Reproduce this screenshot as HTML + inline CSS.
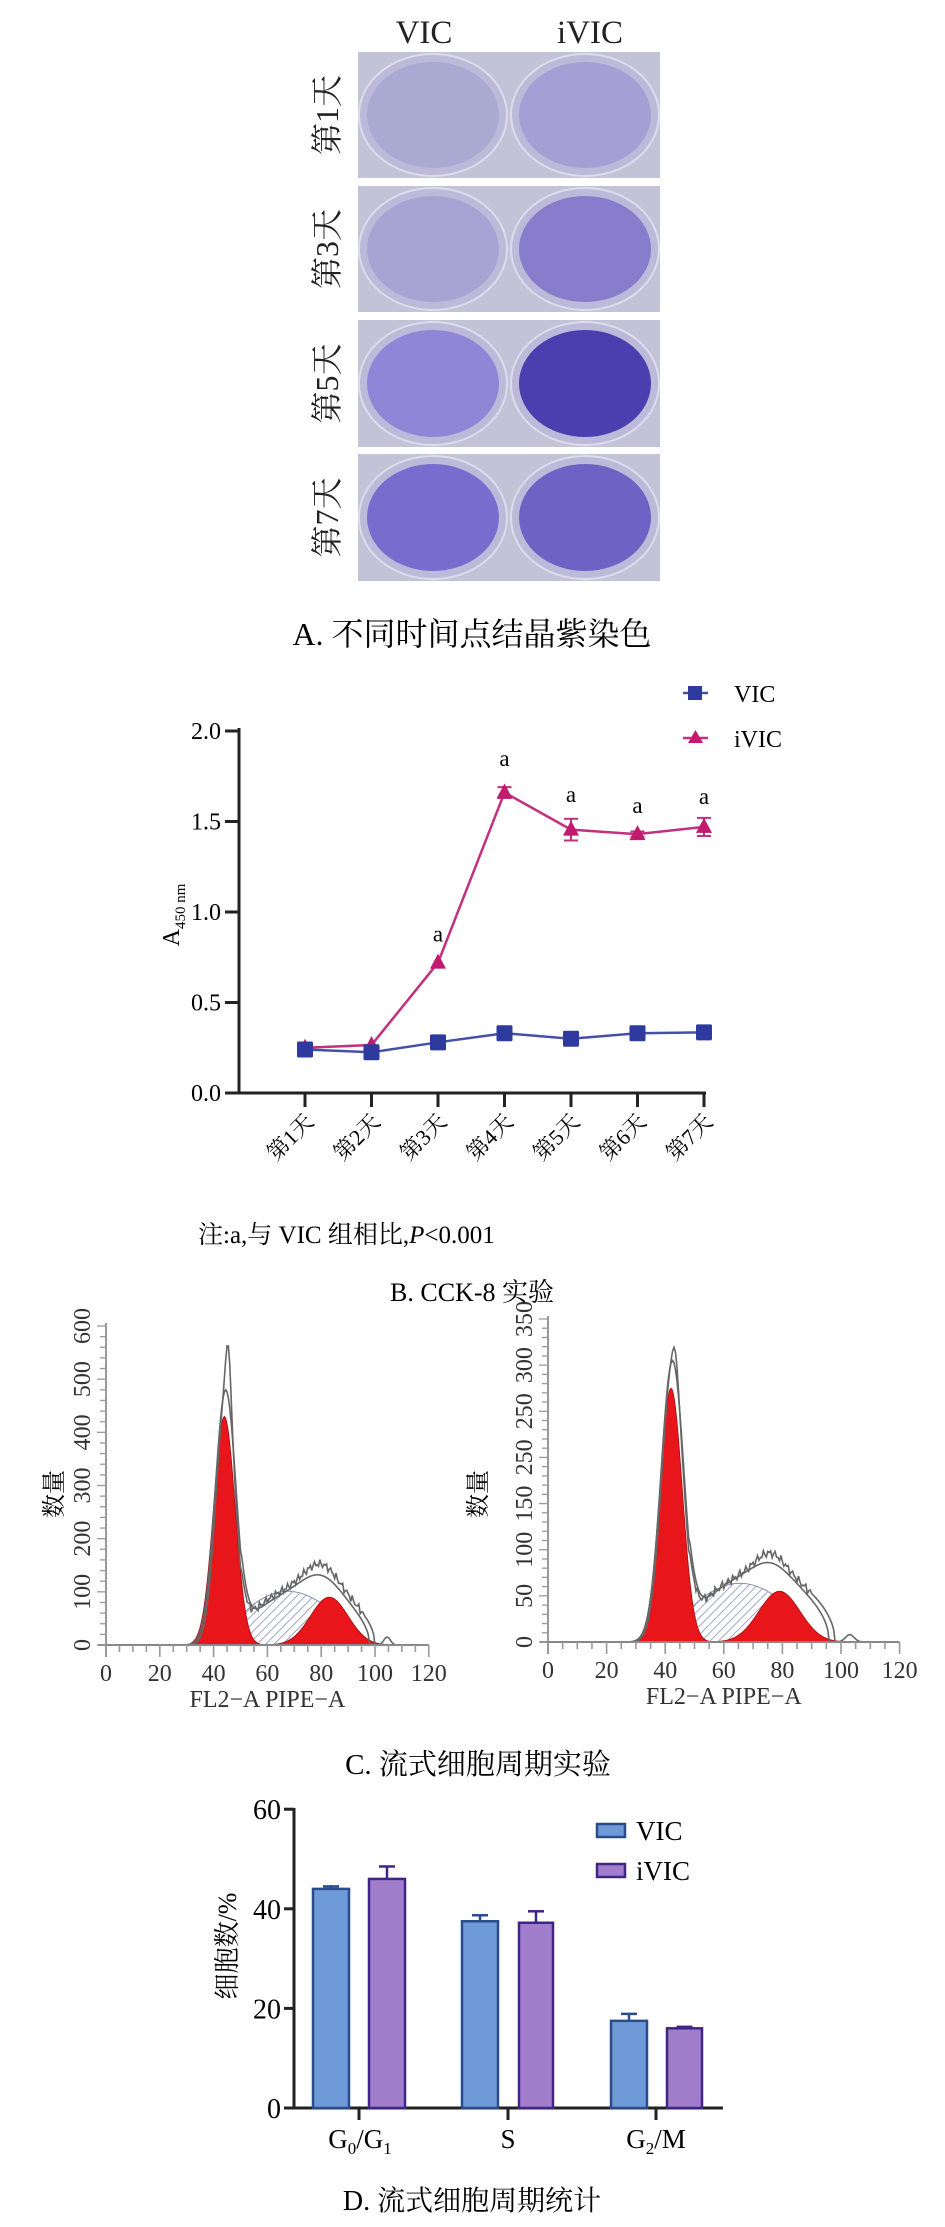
<!DOCTYPE html>
<html><head><meta charset="utf-8"><style>
html,body{margin:0;padding:0;background:#fff}
body{width:945px;height:2227px;position:relative;overflow:hidden}
svg{position:absolute;left:0;top:0}
</style></head><body>
<svg id="s" width="945" height="2227" viewBox="0 0 945 2227" xmlns="http://www.w3.org/2000/svg" font-family="Liberation Serif, Noto Serif CJK SC, serif">
<defs>
<pattern id="hatch" width="6" height="6" patternUnits="userSpaceOnUse" patternTransform="rotate(45)">
<rect width="6" height="6" fill="#fff"/><line x1="0" y1="0" x2="0" y2="6" stroke="#8a8fb8" stroke-width="1.6"/></pattern>
</defs>
<!-- Panel A -->
<text x="424" y="43" font-size="33" text-anchor="middle" fill="#222">VIC</text>
<text x="590" y="43" font-size="33" text-anchor="middle" fill="#222">iVIC</text>
<g id="photos"></g>
<text x="472" y="645" font-size="32" text-anchor="middle">A. 不同时间点结晶紫染色</text>

<!-- Panel B -->
<g id="pb"></g>
<text x="198" y="1243" font-size="25">注:a,与 VIC 组相比,<tspan font-style="italic">P</tspan>&lt;0.001</text>
<text x="472" y="1301" font-size="26" text-anchor="middle">B. CCK-8 实验</text>

<!-- Panel C -->
<g id="pc"></g>
<text x="478" y="1774" font-size="29" text-anchor="middle">C. 流式细胞周期实验</text>

<!-- Panel D -->
<g id="pd"></g>
<text x="472" y="2210" font-size="28" text-anchor="middle">D. 流式细胞周期统计</text>
</svg>
<script>
var NS="http://www.w3.org/2000/svg";
function el(p,t,a,txt){var e=document.createElementNS(NS,t);for(var k in a)e.setAttribute(k,a[k]);if(txt!=null)e.textContent=txt;p.appendChild(e);return e;}
// Panel A
var ph=document.getElementById('photos');
var rows=[[52,178,'#aaa9d2','#a49fd4','第1天'],[186,312,'#a9a3d4','#8a7ccd','第3天'],[320,447,'#9085d6','#4b3eae','第5天'],[454,581,'#7a6bcf','#7061c4','第7天']];
rows.forEach(function(r){
 el(ph,'rect',{x:358,y:r[0],width:302,height:r[1]-r[0],fill:'#c3c3d8'});
 var cy=(r[0]+r[1])/2,ry=(r[1]-r[0])/2;
 el(ph,'ellipse',{cx:433,cy:cy,rx:74,ry:ry-2,fill:'#bcbad8',stroke:'#dcdcec','stroke-width':2});
 el(ph,'ellipse',{cx:585,cy:cy,rx:74,ry:ry-2,fill:'#bcbad8',stroke:'#dcdcec','stroke-width':2});
 el(ph,'ellipse',{cx:433,cy:cy,rx:66,ry:ry-10,fill:r[2]});
 el(ph,'ellipse',{cx:585,cy:cy,rx:66,ry:ry-10,fill:r[3]});
 el(ph,'text',{x:0,y:0,'font-size':32,'text-anchor':'middle',fill:'#222',transform:'translate(338,'+cy+') rotate(-90)'},r[4]);
});
// Panel B
var pb=document.getElementById('pb');
var X0=239,Y0=1093,YS=181;
function bx(i){return 305+i*66.5;} function by(v){return Y0-v*YS;}
el(pb,'line',{x1:X0,y1:Y0,x2:X0,y2:728,stroke:'#222','stroke-width':3});
el(pb,'line',{x1:X0,y1:Y0,x2:706,y2:Y0,stroke:'#222','stroke-width':3});
[0,0.5,1,1.5,2].forEach(function(v){var y=by(v);el(pb,'line',{x1:X0-14,y1:y,x2:X0,y2:y,stroke:'#222','stroke-width':3});
 el(pb,'text',{x:X0-18,y:y+8,'font-size':24,'text-anchor':'end'},v.toFixed(1));});
for(var i=0;i<7;i++){var x=bx(i);el(pb,'line',{x1:x,y1:Y0,x2:x,y2:Y0+14,stroke:'#222','stroke-width':3});
 el(pb,'text',{x:0,y:0,'font-size':22,'text-anchor':'end',transform:'translate('+(x+10)+','+(Y0+30)+') rotate(-45)'},'第'+(i+1)+'天');}
var yl=el(pb,'text',{x:0,y:0,'font-size':24,'text-anchor':'middle',transform:'translate(179,915) rotate(-90)'});
yl.innerHTML='A<tspan font-size="15" dy="6">450 nm</tspan>';
var vic=[0.24,0.225,0.28,0.33,0.30,0.33,0.335],ivic=[0.25,0.265,0.72,1.66,1.455,1.43,1.47],err=[0,0,0.01,0.03,0.06,0.015,0.05];
el(pb,'polyline',{points:ivic.map(function(v,i){return bx(i)+','+by(v)}).join(' '),fill:'none',stroke:'#c2307e','stroke-width':2.5});
ivic.forEach(function(v,i){var x=bx(i);if(err[i]>0.01){el(pb,'line',{x1:x,y1:by(v+err[i]),x2:x,y2:by(v-err[i]),stroke:'#c2307e','stroke-width':2});
 el(pb,'line',{x1:x-7,y1:by(v+err[i]),x2:x+7,y2:by(v+err[i]),stroke:'#c2307e','stroke-width':2});el(pb,'line',{x1:x-7,y1:by(v-err[i]),x2:x+7,y2:by(v-err[i]),stroke:'#c2307e','stroke-width':2});}
 var y=by(v);el(pb,'polygon',{points:(x-8)+','+(y+6)+' '+(x+8)+','+(y+6)+' '+x+','+(y-9),fill:'#c11a6e'});});
el(pb,'polyline',{points:vic.map(function(v,i){return bx(i)+','+by(v)}).join(' '),fill:'none',stroke:'#4550a8','stroke-width':2.5});
vic.forEach(function(v,i){el(pb,'rect',{x:bx(i)-8,y:by(v)-8,width:16,height:16,fill:'#2f3a9e',rx:1.5});});
[[2,0.86],[3,1.83],[4,1.63],[5,1.57],[6,1.62]].forEach(function(a){el(pb,'text',{x:bx(a[0]),y:by(a[1])+4,'font-size':23,'text-anchor':'middle'},'a');});
el(pb,'line',{x1:683,y1:693,x2:708,y2:693,stroke:'#4550a8','stroke-width':2.5});el(pb,'rect',{x:688,y:686,width:14,height:14,fill:'#2f3a9e'});
el(pb,'text',{x:734,y:702,'font-size':24},'VIC');
el(pb,'line',{x1:683,y1:738,x2:708,y2:738,stroke:'#c2307e','stroke-width':2.5});el(pb,'polygon',{points:'688,743 703,743 695.5,730',fill:'#c11a6e'});
el(pb,'text',{x:734,y:747,'font-size':24},'iVIC');
// Panel C
var pc=document.getElementById('pc');
function g(x,m,s,a){return a*Math.exp(-(x-m)*(x-m)/(2*s*s));}
function hist(ox,oy,sx,sy,ymax,ystep,labels,minor,P){
 function X(v){return ox+v*sx;} function Y(c){return oy-c*sy;}
 var d='M'+X(P.s0)+','+Y(0);
 for(var v=P.s0;v<=P.s1;v+=0.5){d+=' L'+X(v)+','+Y(P.sf(v));} d+=' L'+X(P.s1)+','+Y(0)+'Z';
 el(pc,'path',{d:d,fill:'url(#hatch)',stroke:'#8a8fb8','stroke-width':1});
 ['g1','g2'].forEach(function(k){var p=P[k];var d='M'+X(p[0]-4*p[1])+','+Y(0);
  for(var v=p[0]-4*p[1];v<=p[0]+4*p[1];v+=0.4)d+=' L'+X(v)+','+Y(g(v,p[0],p[1],p[2]));
  d+=' L'+X(p[0]+4*p[1])+','+Y(0)+'Z';el(pc,'path',{d:d,fill:'#e8151b',stroke:'#a01010','stroke-width':0.8});});
 P.env.forEach(function(en){var d='';for(var v=0;v<=112;v+=0.5){var c=en(v);d+=(v?' L':'M')+X(v)+','+Y(c);}el(pc,'path',{d:d,fill:'none',stroke:'#666','stroke-width':1.6});});
 el(pc,'line',{x1:ox,y1:oy+12,x2:ox,y2:Y(ymax)-3,stroke:'#999','stroke-width':2});
 el(pc,'line',{x1:ox-8,y1:oy,x2:X(120),y2:oy,stroke:'#888','stroke-width':2});
 for(var c=0;c<=ymax;c+=minor){var big=(c%ystep==0);el(pc,'line',{x1:ox-(big?9:6),y1:Y(c),x2:ox,y2:Y(c),stroke:'#999','stroke-width':1.3});}
 for(var v=0;v<=120;v+=5){var big=(v%20==0);el(pc,'line',{x1:X(v),y1:oy,x2:X(v),y2:oy+(big?12:7),stroke:'#999','stroke-width':1.6});
  if(big)el(pc,'text',{x:X(v),y:oy+36,'font-size':24,'text-anchor':'middle',fill:'#333'},String(v));}
 labels.forEach(function(l,i){el(pc,'text',{x:0,y:0,'font-size':24,'text-anchor':'middle',fill:'#333',transform:'translate('+(ox-16)+','+Y(i*ystep)+') rotate(-90)'},l);});
 el(pc,'text',{x:X(60),y:oy+62,'font-size':24,'text-anchor':'middle',fill:'#333'},'FL2−A PIPE−A');
}
function plat(v,a,b,h){if(v<a||v>b)return 0;var t=(v-a)/(b-a);return h*Math.pow(Math.sin(Math.PI*t),0.5);}
function noise(v){return 5*Math.sin(v*3.1)+4*Math.sin(v*7.3);}
hist(106,1645,2.69,319/600,600,100,['0','100','200','300','400','500','600'],20,{
 g1:[44,4,430],g2:[83,7,90],s0:46,s1:96,sf:function(v){return plat(v,46,96,105)*(v<60?1:Math.max(0,1-Math.pow((v-60)/36,2)*0.6));},
 env:[function(v){return g(v,44.5,3.6,470)+g(v,45.5,1.0,110)+plat(v,50,100,110)+g(v,80,6,45)+(v>52&&v<96?noise(v):0)+g(v,104.5,1.2,15);},
      function(v){return g(v,44.5,3.9,480)+plat(v,50,98,100)+g(v,80,7,35);}]});
hist(548,1642,2.93,323/350,350,50,['0','50','100','150','250','250','300','350'],10,{
 g1:[42,3.8,275],g2:[79,7,55],s0:44,s1:92,sf:function(v){return plat(v,44,92,65)*(v<60?1:Math.max(0,1-Math.pow((v-60)/32,2)*0.5));},
 env:[function(v){return g(v,42.5,3.7,300)+g(v,43.5,1.0,25)+plat(v,48,98,75)+g(v,76,5,22)+(v>50&&v<90?noise(v)*0.6:0)+g(v,103,1.5,8);},
      function(v){return g(v,42.5,3.9,305)+plat(v,48,96,72)+g(v,76,6,15);}]});
el(pc,'text',{x:0,y:0,'font-size':24,'text-anchor':'middle',transform:'translate(62,1494) rotate(-90)'},'数量');
el(pc,'text',{x:0,y:0,'font-size':24,'text-anchor':'middle',transform:'translate(486,1494) rotate(-90)'},'数量');
// Panel D
var pd=document.getElementById('pd');
var DX=294,DY=2108,DS=4.98;function dy(v){return DY-v*DS;}
el(pd,'line',{x1:DX,y1:DY,x2:DX,y2:1808,stroke:'#222','stroke-width':3});
el(pd,'line',{x1:DX-10,y1:DY,x2:723,y2:DY,stroke:'#222','stroke-width':3});
[0,20,40,60].forEach(function(v){el(pd,'line',{x1:DX-10,y1:dy(v),x2:DX,y2:dy(v),stroke:'#222','stroke-width':3});
 el(pd,'text',{x:DX-13,y:dy(v)+10,'font-size':28,'text-anchor':'end'},String(v));});
var bars=[[313,349,44,0.5,'#6f9ad8','#2b4c8c'],[369,405,46,2.5,'#a07ecc','#3f2586'],[462,498,37.5,1.2,'#6f9ad8','#2b4c8c'],[519,553,37.2,2.3,'#a07ecc','#3f2586'],[611,647,17.5,1.4,'#6f9ad8','#2b4c8c'],[667,702,16,0.3,'#a07ecc','#3f2586']];
bars.forEach(function(b){var m=(b[0]+b[1])/2;
 el(pd,'line',{x1:m,y1:dy(b[2]+b[3]),x2:m,y2:dy(b[2]),stroke:b[5],'stroke-width':2.5});
 el(pd,'line',{x1:m-8,y1:dy(b[2]+b[3]),x2:m+8,y2:dy(b[2]+b[3]),stroke:b[5],'stroke-width':2.5});
 el(pd,'rect',{x:b[0],y:dy(b[2]),width:b[1]-b[0],height:DY-dy(b[2]),fill:b[4],stroke:b[5],'stroke-width':2.5});});
[359,508,656].forEach(function(x){el(pd,'line',{x1:x,y1:DY,x2:x,y2:DY+12,stroke:'#222','stroke-width':3});});
var t1=el(pd,'text',{x:360,y:2148,'font-size':27,'text-anchor':'middle'});t1.innerHTML='G<tspan font-size="17" dy="6">0</tspan><tspan dy="-6">/G</tspan><tspan font-size="17" dy="6">1</tspan>';
el(pd,'text',{x:508,y:2148,'font-size':27,'text-anchor':'middle'},'S');
var t2=el(pd,'text',{x:656,y:2148,'font-size':27,'text-anchor':'middle'});t2.innerHTML='G<tspan font-size="17" dy="6">2</tspan><tspan dy="-6">/M</tspan>';
el(pd,'rect',{x:597,y:1824,width:28,height:13,fill:'#6f9ad8',stroke:'#2b4c8c','stroke-width':2.5});
el(pd,'text',{x:636,y:1840,'font-size':27},'VIC');
el(pd,'rect',{x:597,y:1864,width:28,height:13,fill:'#a07ecc',stroke:'#3f2586','stroke-width':2.5});
el(pd,'text',{x:636,y:1880,'font-size':27},'iVIC');
el(pd,'text',{x:0,y:0,'font-size':26,'text-anchor':'middle',transform:'translate(236,1946) rotate(-90)'},'细胞数/%');
</script>
</body></html>
